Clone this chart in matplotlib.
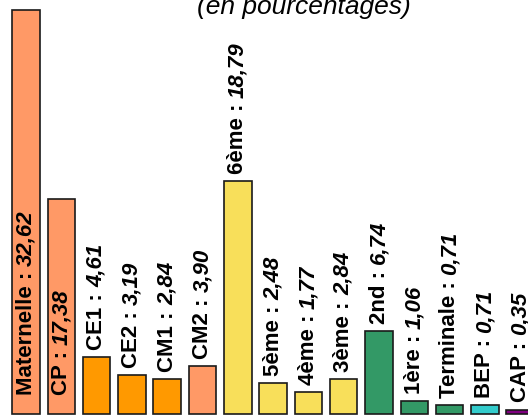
import matplotlib.pyplot as plt

# Répartition des élèves par niveau (en pourcentages)
niveaux = ["Maternelle", "CP", "CE1", "CE2", "CM1", "CM2", "6ème", "5ème",
           "4ème", "3ème", "2nd", "1ère", "Terminale", "BEP", "CAP"]
valeurs = [32.62, 17.38, 4.61, 3.19, 2.84, 3.90, 18.79, 2.48,
           1.77, 2.84, 6.74, 1.06, 0.71, 0.71, 0.35]
couleurs = ["#FF9966", "#FF9966", "#FF9900", "#FF9900", "#FF9900", "#FF9966",
            "#F8DF5A", "#F8DF5A", "#F8DF5A", "#F8DF5A",
            "#339966", "#339966", "#339966", "#33CCCC", "#800080"]
# les deux premières étiquettes sont écrites dans la barre
dans_barre = [True, True] + [False] * 13

plt.rcParams["font.family"] = ["Liberation Sans", "DejaVu Sans"]

fig = plt.figure(figsize=(5.28, 4.15), dpi=100)
ax = fig.add_axes([0, 0, 1, 1])
ax.set_axis_off()

x = list(range(len(niveaux)))
ax.bar(x, valeurs, width=0.78, color=couleurs, edgecolor="#1a1a1a", linewidth=1.2)

ax.set_xlim(-0.737, 14.22)
ax.set_ylim(-0.08, 33.43)

fig.canvas.draw()
for i, (nom, v) in enumerate(zip(niveaux, valeurs)):
    val = f"{v:.2f}".replace(".", ",")
    y0 = 1.5 if dans_barre[i] else max(v + 0.55, 1.0)
    # nom en gras droit, puis valeur en gras italique à la suite
    t = ax.text(i, y0, f"{nom} : ", rotation=90, ha="center", va="bottom",
                fontsize=16, fontweight="bold", color="black")
    bb = t.get_window_extent(renderer=fig.canvas.get_renderer())
    y_top = ax.transData.inverted().transform((0, bb.y1))[1]
    ax.text(i, y_top, val, rotation=90, ha="center", va="bottom",
            fontsize=16, fontweight="bold", fontstyle="italic", color="black")

fig.text(0.575, 0.966, "(en pourcentages)", ha="center", va="baseline",
         fontsize=19, fontstyle="italic", color="black")

fig.savefig("out.png", dpi=100)
